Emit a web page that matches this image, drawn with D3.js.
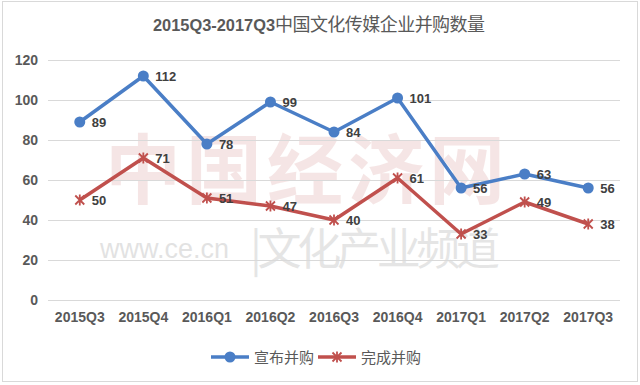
<!DOCTYPE html>
<html lang="zh">
<head>
  <meta charset="UTF-8" />
  <title>2015Q3-2017Q3中国文化传媒企业并购数量</title>
  <style>
    html, body { margin: 0; padding: 0; background: #fff; overflow: hidden; }
    svg { display: block; }
    .tick text { font-family: "Liberation Sans", Arial, sans-serif; font-weight: bold; font-size: 14px; fill: #595959; }
    .label { font-family: "Liberation Sans", Arial, sans-serif; font-weight: bold; font-size: 13px; fill: #404040; }
  </style>
  <script src="https://d3js.org/d3.v7.min.js"></script>
</head>
<body>
  <svg id="chart" width="640" height="385"></svg>
  <script>
    const categories = ["2015Q3", "2015Q4", "2016Q1", "2016Q2", "2016Q3", "2016Q4", "2017Q1", "2017Q2", "2017Q3"];
    const announced = [89, 112, 78, 99, 84, 101, 56, 63, 56];
    const completed = [50, 71, 51, 47, 40, 61, 33, 49, 38];
    const yTicks = [0, 20, 40, 60, 80, 100, 120];
    const seriesNames = ["宣布并购", "完成并购"];

    const svg = d3.select("#chart");
    const margin = { left: 48, right: 20, top: 60, bottom: 85 };
    const W = 640, H = 385;

    // outer frame
    svg.append("rect")
      .attr("x", 2.5).attr("y", 1.5).attr("width", W - 5).attr("height", H - 5)
      .attr("fill", "#fff").attr("stroke", "#d9d9d9").attr("stroke-width", 1);

    const x = d3.scaleBand().domain(categories).range([margin.left, W - margin.right]);
    const y = d3.scaleLinear().domain([0, 120]).range([H - margin.bottom, margin.top]);

    // watermark (faint, behind everything)
    const wm = svg.append("g").attr("pointer-events", "none");
    wm.append("text").attr("x", 105).attr("y", 198)
      .attr("font-family", "Noto Sans CJK SC").attr("font-weight", "bold").attr("font-size", 76)
      .attr("fill", "#c0504d").attr("opacity", 0.14).attr("textLength", 400)
      .text("中国经济网");
    wm.append("text").attr("x", 100).attr("y", 258)
      .attr("font-family", "Liberation Sans, sans-serif").attr("font-size", 27)
      .attr("fill", "#9a9a9a").attr("opacity", 0.28)
      .text("www.ce.cn");
    wm.append("text").attr("x", 250).attr("y", 265)
      .attr("font-family", "Noto Sans CJK SC").attr("font-size", 44)
      .attr("fill", "#9a9a9a").attr("opacity", 0.25).attr("textLength", 250)
      .text("|文化产业频道");

    // title
    const title = svg.append("text")
      .attr("x", 153).attr("y", 31)
      .attr("fill", "#595959");
    title.append("tspan")
      .attr("font-family", "Liberation Sans, sans-serif").attr("font-weight", "bold").attr("font-size", 16)
      .attr("textLength", 122).attr("lengthAdjust", "spacingAndGlyphs")
      .text("2015Q3-2017Q3");
    title.append("tspan")
      .attr("font-family", "Noto Sans CJK SC, sans-serif").attr("font-size", 18)
      .attr("textLength", 210)
      .text("中国文化传媒企业并购数量");

    // y axis with gridlines
    const yAxis = svg.append("g")
      .attr("transform", `translate(${margin.left},0)`)
      .call(d3.axisLeft(y).tickValues(yTicks).tickSize(-(W - margin.left - margin.right)).tickPadding(10));
    yAxis.select(".domain").remove();
    yAxis.selectAll(".tick line").attr("stroke", "#d9d9d9").attr("stroke-width", 1);

    // x axis
    const xAxis = svg.append("g")
      .attr("transform", `translate(0,${H - margin.bottom})`)
      .call(d3.axisBottom(x).tickSize(0).tickPadding(12));
    xAxis.select(".domain").remove();

    const cx = d => x(d) + x.bandwidth() / 2;
    const line = d3.line().x((d, i) => cx(categories[i])).y(d => y(d));

    const series = [
      { name: seriesNames[0], values: announced, color: "#4a7ec6", marker: "circle" },
      { name: seriesNames[1], values: completed, color: "#c0504d", marker: "star" }
    ];

    function drawMarker(g, type, color) {
      if (type === "circle") {
        g.append("circle").attr("r", 5.5).attr("fill", color);
      } else {
        const s = 4.5;
        g.append("path")
          .attr("d", `M${-s},${-s}L${s},${s}M${-s},${s}L${s},${-s}M0,${-s - 1}L0,${s + 1}`)
          .attr("stroke", color).attr("stroke-width", 1.8).attr("fill", "none");
      }
    }

    series.forEach(s => {
      svg.append("path")
        .datum(s.values)
        .attr("d", line)
        .attr("fill", "none")
        .attr("stroke", s.color)
        .attr("stroke-width", 3.5)
        .attr("stroke-linejoin", "round");

      s.values.forEach((v, i) => {
        const g = svg.append("g").attr("transform", `translate(${cx(categories[i])},${y(v)})`);
        drawMarker(g, s.marker, s.color);
        svg.append("text")
          .attr("class", "label")
          .attr("x", cx(categories[i]) + 12)
          .attr("y", y(v) + 5)
          .text(v);
      });
    });

    // legend
    const legend = svg.append("g").attr("transform", "translate(0,357)");
    const legendX = [211, 318];
    series.forEach((s, i) => {
      const lx = legendX[i];
      legend.append("line")
        .attr("x1", lx).attr("x2", lx + 38).attr("y1", 0).attr("y2", 0)
        .attr("stroke", s.color).attr("stroke-width", 3.5);
      const m = legend.append("g").attr("transform", `translate(${lx + 19},0)`);
      drawMarker(m, s.marker, s.color);
      legend.append("text")
        .attr("x", lx + 43).attr("y", 5.5)
        .attr("font-family", "Noto Sans CJK SC, sans-serif")
        .attr("font-size", 15).attr("fill", "#595959")
        .text(s.name);
    });
  </script>
</body>
</html>
